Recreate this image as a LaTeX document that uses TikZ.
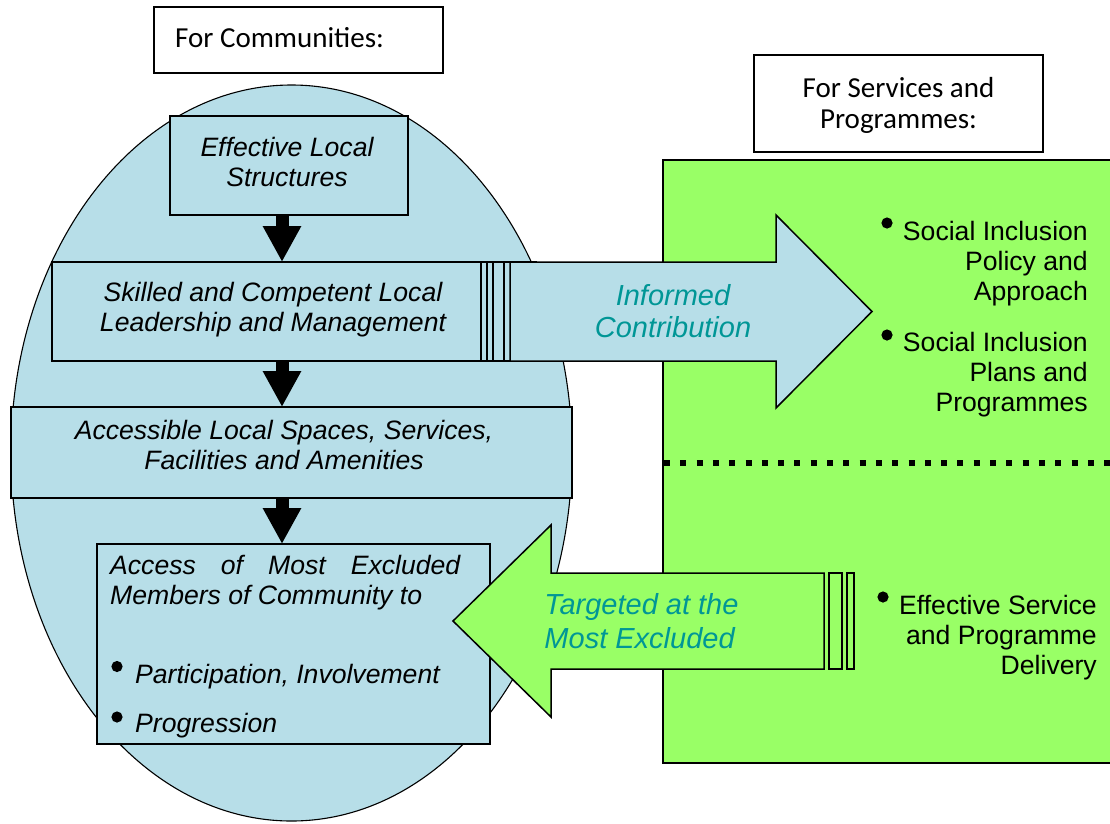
\documentclass[tikz,border=0pt]{standalone}
\usepackage{fontspec}
\setmainfont{Liberation Sans}
\newfontfamily\calfont{Carlito}
\usetikzlibrary{arrows.meta}
\definecolor{lblue}{HTML}{B7DEE8}
\definecolor{lgreen}{HTML}{99FF66}
\definecolor{tealtxt}{RGB}{0,150,150}
\newcommand\myfa{\fontsize{26.6}{30}\selectfont}
\newcommand\myfb{\fontsize{29}{32.5}\selectfont}
\newcommand\myfc{\fontsize{29}{34}\selectfont}
\newcommand\myfd{\fontsize{29}{31.5}\selectfont}
\begin{document}
\begin{tikzpicture}[x=1pt,y=-1pt,
  bbox/.style={draw, fill=lblue, line width=1.5pt, inner sep=0pt, outer sep=0pt},
  wbox/.style={draw, fill=white, line width=1.5pt, inner sep=0pt, outer sep=0pt},
  itxt/.style={font=\myfa\itshape, align=center, inner sep=0pt},
  rtxt/.style={font=\myfa, align=right, inner sep=0pt, anchor=east},
  ttxt/.style={text=tealtxt, inner sep=0pt},
  blk/.style={line width=13pt, -{Triangle[width=36pt,length=36pt]}},
  shp/.style={draw, line width=1.5pt, line join=miter},
  bul/.style={fill=black}]
\useasboundingbox (0,0) rectangle (1110,823);
\clip (0,0) rectangle (1110,823);

% background shapes
\draw[fill=lblue, line width=1.1pt] (291.5,453) ellipse [x radius=280.5pt, y radius=368pt];
\draw[fill=lgreen, line width=1.5pt] (663,160) rectangle (1125,763);
\coordinate (dl) at (664,462.5);
\coordinate (dr) at (1110,462.5);
\draw[line width=6pt, dash pattern=on 6pt off 10.3pt] (dl) -- (dr);

% blue boxes
\node[bbox, minimum width=238pt, minimum height=99pt] (els) at (289,165.5) {};
\node[bbox, minimum width=484pt, minimum height=99pt] (skill) at (294,311.5) {};
\node[bbox, minimum width=561pt, minimum height=91pt] (acc) at (291.5,452.5) {};
\node[bbox, minimum width=393pt, minimum height=200pt] (access) at (293.5,644) {};

% black down arrows
\coordinate (ax) at (282,0);
\draw[blk] (els.south -| ax) -- (skill.north -| ax);
\draw[blk] (skill.south -| ax) -- (acc.north -| ax);
\draw[blk] (acc.south -| ax) -- (access.north -| ax);

% striped right arrow
\draw[shp, fill=lblue] (481,262) rectangle (487,361);
\draw[shp, fill=lblue] (493,262) rectangle (504,361);
\draw[shp, fill=lblue] (510,262) -- (776,262) -- (776,215) -- (872,311.5) -- (776,408) -- (776,361) -- (510,361) -- cycle;
\node[ttxt, font=\myfb\itshape, align=center] (inf) at (673,311) {Informed\\Contribution};

% striped left arrow
\draw[shp, fill=lgreen] (829,573) rectangle (842,669);
\draw[shp, fill=lgreen] (847,573) rectangle (854,669);
\draw[shp, fill=lgreen] (824,573) -- (551,573) -- (551,525) -- (453,621) -- (551,717) -- (551,669) -- (824,669) -- cycle;
\node[ttxt, font=\myfc\itshape, align=left] (tgt) at (641.5,621) {Targeted at the\\Most Excluded};

% texts in blue boxes
\node[itxt] (t1) at (287,161.5) {Effective Local\\Structures};
\node[itxt] (t2) at (273,310) {Skilled and Competent Local\\Leadership and Management};
\node[itxt] (t3) at (284,445) {Accessible Local Spaces, Services,\\Facilities and Amenities};
\node[itxt, align=left, anchor=north west] (t4) at (110,555.5) {\makebox[350pt][s]{Access of Most Excluded}\\Members of Community to};
\fill[bul] (117,666.5) circle (5.6pt);
\node[itxt, anchor=base west] (t5) at (135,683) {Participation, Involvement};
\fill[bul] (117,717) circle (5.6pt);
\node[itxt, anchor=base west] (t6) at (135,732) {Progression};

% right side texts
\fill[bul] (887,223) circle (5.6pt);
\node[rtxt] (r1) at (1088,264) {Social Inclusion\\Policy and\\Approach};
\fill[bul] (887,335) circle (5.6pt);
\node[rtxt] (r2) at (1088,375) {Social Inclusion\\Plans and\\Programmes};
\fill[bul] (883,597) circle (5.6pt);
\node[rtxt] (r3) at (1097,638) {Effective Service\\and Programme\\Delivery};

% heading boxes
\node[wbox, minimum width=289pt, minimum height=66pt] (comm) at (298.5,40) {};
\node[font=\calfont\myfd, inner sep=0pt, anchor=west] (commt) at (175,37.5) {For Communities:};
\node[wbox, minimum width=289pt, minimum height=97pt] (serv) at (898.5,103.5) {};
\node[font=\calfont\myfd, inner sep=0pt, align=center] (servt) at (898.5,105.5) {For Services and\\Programmes:};
\end{tikzpicture}
\end{document}
